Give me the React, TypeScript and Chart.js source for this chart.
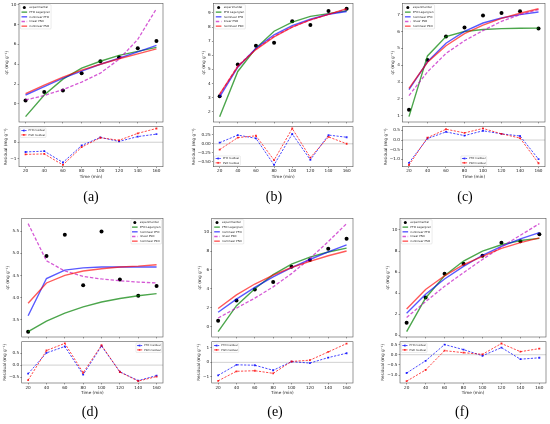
import React, { useEffect, useRef } from "react";
import { Chart, registerables } from "chart.js";

Chart.register(...registerables);

// ---------------- data ----------------
const TIME = [20, 40, 60, 80, 100, 120, 140, 160];
const X_TICKS = [20, 40, 60, 80, 100, 120, 140, 160];

// (a)
const A_EXP = [0.34, 1.2, 1.35, 3.1, 4.3, 4.7, 5.6, 6.35];
const A_PFO_LAG = [-1.28, 0.9, 2.5, 3.6, 4.3, 4.9, 5.3, 5.7];
const A_NL_PFO = [0.9, 1.75, 2.6, 3.3, 4.0, 4.6, 5.25, 5.9];
const A_LIN_PSO = [0.4, 0.85, 1.45, 2.2, 3.1, 4.5, 6.5, 9.6];
const A_NL_PSO = [1.05, 1.9, 2.7, 3.4, 4.0, 4.55, 5.05, 5.55];
const A_RES_PFO = [-0.6, -0.55, -1.25, -0.2, 0.3, 0.05, 0.35, 0.5];
const A_RES_PSO = [-0.75, -0.72, -1.4, -0.3, 0.28, 0.12, 0.55, 0.85];
const A_Y_TICKS = [0, 2, 4, 6, 8, 10];
const A_RES_TICKS = [-1, 0];

// (b)
const B_EXP = [3.1, 5.35, 6.68, 6.88, 8.41, 8.14, 9.14, 9.3];
const B_PFO_LAG = [1.65, 4.85, 6.5, 7.7, 8.35, 8.75, 8.95, 9.15];
const B_NL_PFO = [3.05, 5.15, 6.5, 7.45, 8.1, 8.55, 8.9, 9.1];
const B_LIN_PSO = [3.2, 5.25, 6.45, 7.35, 8.0, 8.5, 8.9, 9.25];
const B_NL_PSO = [3.25, 5.2, 6.4, 7.3, 8.0, 8.5, 8.9, 9.3];
const B_RES_PFO = [0.03, 0.24, 0.15, -0.58, 0.27, -0.44, 0.24, 0.18];
const B_RES_PSO = [-0.16, 0.17, 0.22, -0.45, 0.42, -0.38, 0.19, 0.0];
const B_Y_TICKS = [2, 3, 4, 5, 6, 7, 8, 9];
const B_RES_TICKS = [-0.5, -0.25, 0, 0.25];

// (c)
const C_EXP = [1.36, 4.3, 5.7, 6.24, 6.95, 7.1, 7.2, 6.18];
const C_PFO_LAG = [0.95, 4.55, 5.7, 6.0, 6.12, 6.17, 6.19, 6.2];
const C_NL_PFO = [2.55, 4.2, 5.3, 6.0, 6.5, 6.8, 7.0, 7.15];
const C_LIN_PSO = [2.2, 3.6, 4.7, 5.45, 6.05, 6.6, 7.0, 7.3];
const C_NL_PSO = [2.62, 4.17, 5.15, 5.87, 6.38, 6.78, 7.08, 7.35];
const C_RES_PFO = [-1.18, 0.08, 0.42, 0.23, 0.48, 0.32, 0.21, -0.99];
const C_RES_PSO = [-1.29, 0.12, 0.56, 0.37, 0.6, 0.32, 0.1, -1.2];
const C_Y_TICKS = [1, 2, 3, 4, 5, 6, 7];
const C_RES_TICKS = [-1.0, -0.5, 0.0, 0.5];

// (d)
const D_EXP = [3.23, 4.94, 5.42, 4.28, 5.49, 4.41, 4.04, 4.26];
const D_PFO_LAG = [3.23, 3.47, 3.65, 3.79, 3.9, 3.98, 4.04, 4.09];
const D_NL_PFO = [3.59, 4.43, 4.62, 4.67, 4.69, 4.69, 4.69, 4.69];
const D_LIN_PSO = [5.67, 4.83, 4.6, 4.48, 4.42, 4.38, 4.35, 4.33];
const D_NL_PSO = [3.87, 4.33, 4.5, 4.6, 4.65, 4.69, 4.71, 4.74];
const D_RES_PFO = [-0.36, 0.51, 0.78, -0.4, 0.8, -0.28, -0.65, -0.44];
const D_RES_PSO = [-0.63, 0.61, 0.91, -0.32, 0.83, -0.29, -0.67, -0.48];
const D_Y_TICKS = [3.5, 4.0, 4.5, 5.0, 5.5];
const D_RES_TICKS = [-0.5, 0.0, 0.5];

// (e)
const E_EXP = [0.6, 2.75, 3.93, 4.71, 6.32, 7.04, 8.25, 9.29];
const E_PFO_LAG = [-0.55, 2.2, 4.0, 5.5, 6.6, 7.35, 7.9, 8.3];
const E_NL_PFO = [1.5, 2.9, 4.15, 5.25, 6.25, 7.1, 7.9, 8.65];
const E_LIN_PSO = [0.9, 1.95, 3.0, 4.2, 5.6, 7.2, 9.0, 10.9];
const E_NL_PSO = [1.9, 3.35, 4.5, 5.45, 6.25, 6.9, 7.5, 8.0];
const E_RES_PFO = [-0.9, -0.17, -0.2, -0.55, 0.05, -0.05, 0.33, 0.63];
const E_RES_PSO = [-1.28, -0.62, -0.58, -0.76, 0.06, 0.15, 0.72, 1.3];
const E_Y_TICKS = [0, 2, 4, 6, 8, 10];
const E_RES_TICKS = [-1, 0, 1];

// (f)
const F_EXP = [1.2, 3.6, 5.85, 6.8, 7.55, 8.8, 8.93, 9.6];
const F_PFO_LAG = [0.35, 3.55, 5.65, 7.05, 8.0, 8.6, 9.0, 9.2];
const F_NL_PFO = [2.1, 3.9, 5.35, 6.55, 7.6, 8.45, 9.15, 9.75];
const F_LIN_PSO = [1.7, 3.2, 4.65, 5.95, 7.2, 8.4, 9.5, 10.6];
const F_NL_PSO = [2.5, 4.35, 5.65, 6.7, 7.5, 8.25, 8.8, 9.25];
const F_RES_PFO = [-0.9, -0.3, 0.5, 0.25, -0.05, 0.35, -0.22, -0.15];
const F_RES_PSO = [-1.3, -0.75, 0.2, 0.1, 0.02, 0.55, 0.15, 0.3];
const F_Y_TICKS = [0, 2, 4, 6, 8, 10];
const F_RES_TICKS = [-1.0, -0.5, 0.0, 0.5];

// ---------------- styling ----------------
const FONT = '"DejaVu Sans", sans-serif';
const FS = 4.2;
const LEG_FS_MAIN = 2.8;
const LEG_FS_RES = 2.6;
const TICK_LEN = 1.4;
const TICK_PAD = 1.2;
const LABEL_PAD = 1.6;
const AX_COLOR = "#555";
const TXT_COLOR = "#222";

const C_GREEN = "rgba(0,128,0,0.7)";
const C_BLUE = "rgba(0,0,255,0.65)";
const C_MAG = "rgba(191,0,191,0.65)";
const C_RED = "rgba(255,0,0,0.65)";
const C_RBLUE = "rgba(0,0,255,0.8)";
const C_RRED = "rgba(255,0,0,0.8)";

type Kind = "exp" | "lag" | "nlpfo" | "linpso" | "nlpso" | "respfo" | "respso";

const KIND_LABEL: Record<Kind, string> = {
  exp: "experimental",
  lag: "PFO Lagergren",
  nlpfo: "nonlinear PFO",
  linpso: "linear PSO",
  nlpso: "nonlinear PSO",
  respfo: "PFO residual",
  respso: "PSO residual",
};

const LINE_STYLE: Record<string, { color: string; width: number; dash: number[]; marker?: boolean }> = {
  lag: { color: C_GREEN, width: 1.4, dash: [] },
  nlpfo: { color: C_BLUE, width: 1.4, dash: [] },
  linpso: { color: C_MAG, width: 1.3, dash: [3.4, 1.8] },
  nlpso: { color: C_RED, width: 1.4, dash: [] },
  respfo: { color: C_RBLUE, width: 0.9, dash: [2.2, 1.4], marker: true },
  respso: { color: C_RRED, width: 0.9, dash: [2.2, 1.4], marker: true },
};

const fmt = (v: number, dec: number) => {
  const s = Math.abs(v).toFixed(dec);
  return (v < -1e-9 ? "\u2212" : "") + s;
};

type Loc = "upper left" | "upper right" | "lower left" | "lower center";

interface Sub {
  box: [number, number, number, number];
  residual: boolean;
  series: Partial<Record<Kind, number[]>>;
  yRange: [number, number];
  ticks: number[];
  dec: number;
  legend: Loc;
}

// ---------------- plugin ----------------
function roundRectPath(ctx: CanvasRenderingContext2D, x: number, y: number, w: number, h: number, r: number) {
  ctx.beginPath();
  ctx.moveTo(x + r, y);
  ctx.lineTo(x + w - r, y);
  ctx.arcTo(x + w, y, x + w, y + r, r);
  ctx.lineTo(x + w, y + h - r);
  ctx.arcTo(x + w, y + h, x + w - r, y + h, r);
  ctx.lineTo(x + r, y + h);
  ctx.arcTo(x, y + h, x, y + h - r, r);
  ctx.lineTo(x, y + r);
  ctx.arcTo(x, y, x + r, y, r);
  ctx.closePath();
}

function drawHandle(ctx: CanvasRenderingContext2D, k: Kind, x0: number, x1: number, cy: number) {
  ctx.save();
  if (k === "exp") {
    ctx.fillStyle = "#000";
    ctx.beginPath();
    ctx.arc((x0 + x1) / 2, cy, 1.5, 0, Math.PI * 2);
    ctx.fill();
  } else {
    const s = LINE_STYLE[k];
    ctx.strokeStyle = s.color;
    ctx.lineWidth = s.width;
    ctx.setLineDash(s.dash);
    ctx.beginPath();
    ctx.moveTo(x0, cy);
    ctx.lineTo(x1, cy);
    ctx.stroke();
    if (s.marker) {
      ctx.fillStyle = s.color;
      const m = 0.9;
      ctx.fillRect((x0 + x1) / 2 - m, cy - m, 2 * m, 2 * m);
    }
  }
  ctx.restore();
}

function drawLegend(ctx: CanvasRenderingContext2D, a: any, kinds: Kind[], loc: Loc, fs: number) {
  ctx.save();
  ctx.font = `${fs}px ${FONT}`;
  const tw = Math.max(...kinds.map((k) => ctx.measureText(KIND_LABEL[k]).width));
  const pad = 0.4 * fs, hl = 2 * fs, htp = 0.8 * fs, rowH = 1.17 * fs, sp = 0.5 * fs, bap = 0.5 * fs;
  const w = 2 * pad + hl + htp + tw;
  const h = 2 * pad + kinds.length * rowH + (kinds.length - 1) * sp;
  let x0: number;
  if (loc.includes("left")) x0 = a.left + bap;
  else if (loc.includes("right")) x0 = a.right - bap - w;
  else x0 = (a.left + a.right) / 2 - w / 2;
  const y0 = loc.startsWith("upper") ? a.top + bap : a.bottom - bap - h;
  roundRectPath(ctx, x0, y0, w, h, 0.8);
  ctx.fillStyle = "rgba(255,255,255,0.85)";
  ctx.fill();
  ctx.strokeStyle = "#cccccc";
  ctx.lineWidth = 0.4;
  ctx.stroke();
  kinds.forEach((k, i) => {
    const cy = y0 + pad + i * (rowH + sp) + rowH / 2;
    const hx0 = x0 + pad;
    const hx1 = hx0 + hl;
    drawHandle(ctx, k, hx0, hx1, cy);
    ctx.fillStyle = TXT_COLOR;
    ctx.textAlign = "left";
    ctx.textBaseline = "middle";
    ctx.fillText(KIND_LABEL[k], hx1 + htp, cy);
  });
  ctx.restore();
}

const mplPlugin = {
  id: "mpl",
  beforeDatasetsDraw(chart: any, _args: any, opts: any) {
    if (!opts.zero) return;
    const { ctx, chartArea: a } = chart;
    const y = chart.scales.y.getPixelForValue(0);
    ctx.save();
    ctx.strokeStyle = "#b0b0b0";
    ctx.lineWidth = 0.6;
    ctx.beginPath();
    ctx.moveTo(a.left, y);
    ctx.lineTo(a.right, y);
    ctx.stroke();
    ctx.restore();
  },
  afterDraw(chart: any, _args: any, opts: any) {
    const { ctx, chartArea: a } = chart;
    ctx.save();
    ctx.strokeStyle = AX_COLOR;
    ctx.lineWidth = 0.6;
    ctx.strokeRect(a.left, a.top, a.right - a.left, a.bottom - a.top);
    ctx.font = `${FS}px ${FONT}`;
    ctx.fillStyle = TXT_COLOR;
    let maxW = 0;
    chart.scales.y.ticks.forEach((t: any) => {
      maxW = Math.max(maxW, ctx.measureText(String(t.label)).width);
    });
    const tx = a.left - (TICK_LEN + TICK_PAD + maxW + LABEL_PAD + FS * 0.6);
    ctx.save();
    ctx.translate(tx, (a.top + a.bottom) / 2);
    ctx.rotate(-Math.PI / 2);
    ctx.textAlign = "center";
    ctx.textBaseline = "middle";
    ctx.fillText(opts.yTitle, 0, 0);
    ctx.restore();
    if (opts.xTitle) {
      ctx.textAlign = "center";
      ctx.textBaseline = "middle";
      ctx.fillText(opts.xTitle, (a.left + a.right) / 2, a.bottom + 9.8);
    }
    ctx.restore();
    drawLegend(ctx, a, opts.legendKinds, opts.legendLoc, opts.legendFs);
  },
};

// ---------------- geometry ----------------
function geom(sp: Sub) {
  const [l, t, r, b] = sp.box;
  const LW = Math.min(34, l);
  const TP = 5, RP = 3;
  const BH = sp.residual ? 14 : 3;
  const L0 = Math.floor(l - LW), T0 = Math.floor(t - TP);
  const R1 = Math.min(550, Math.ceil(r + RP)), B1 = Math.ceil(b + BH);
  return { L0, T0, W: R1 - L0, H: B1 - T0, axW: l - L0, padT: t - T0, padR: R1 - r, axH: B1 - b };
}

function buildConfig(sp: Sub) {
  const g = geom(sp);
  const order: Kind[] = sp.residual ? ["respso", "respfo"] : ["nlpso", "linpso", "nlpfo", "lag", "exp"];
  const legendKinds: Kind[] = sp.residual ? ["respfo", "respso"] : ["exp", "lag", "nlpfo", "linpso", "nlpso"];
  const datasets = order
    .filter((k) => sp.series[k])
    .map((k) => {
      const vals = sp.series[k] as number[];
      const data = TIME.map((x, i) => ({ x, y: vals[i] }));
      if (k === "exp") {
        return {
          label: KIND_LABEL[k], data, showLine: false, pointRadius: 2, pointStyle: "circle",
          pointBackgroundColor: "#000", pointBorderColor: "#000", pointBorderWidth: 0,
          borderColor: "#000", backgroundColor: "#000",
        };
      }
      const s = LINE_STYLE[k];
      return {
        label: KIND_LABEL[k], data, showLine: true, tension: 0, fill: false,
        borderColor: s.color, borderWidth: s.width, borderDash: s.dash,
        pointRadius: s.marker ? 1.3 : 0, pointStyle: "rect",
        pointBackgroundColor: s.color, pointBorderColor: s.color, pointBorderWidth: 0,
      };
    });
  const gridOpts = {
    display: true, drawOnChartArea: false, drawTicks: true, tickLength: TICK_LEN,
    tickColor: AX_COLOR, tickWidth: 0.6,
  };
  return {
    type: "line",
    data: { datasets },
    options: {
      animation: false,
      responsive: true,
      maintainAspectRatio: false,
      events: [],
      layout: { padding: { left: 0, top: g.padT, right: g.padR, bottom: 0 } },
      plugins: {
        legend: { display: false },
        tooltip: { enabled: false },
        mpl: {
          yTitle: sp.residual ? "Residual (mg g\u207B\u00B9)" : "qt (mg g\u207B\u00B9)",
          xTitle: sp.residual ? "Time (min)" : "",
          zero: sp.residual,
          legendKinds,
          legendLoc: sp.legend,
          legendFs: sp.residual ? LEG_FS_RES : LEG_FS_MAIN,
        },
      },
      scales: {
        x: {
          type: "linear", min: 13, max: 167, bounds: "data",
          afterBuildTicks: (ax: any) => { ax.ticks = X_TICKS.map((v) => ({ value: v })); },
          afterFit: (ax: any) => { ax.height = g.axH; },
          border: { display: false },
          grid: gridOpts,
          ticks: {
            display: sp.residual, font: { family: FONT, size: FS }, color: TXT_COLOR,
            padding: 0.5, maxRotation: 0, autoSkip: false,
            callback: (v: any) => String(v),
          },
        },
        y: {
          type: "linear", min: sp.yRange[0], max: sp.yRange[1], bounds: "data",
          afterBuildTicks: (ax: any) => { ax.ticks = sp.ticks.map((v) => ({ value: v })); },
          afterFit: (ax: any) => { ax.width = g.axW; },
          border: { display: false },
          grid: gridOpts,
          ticks: {
            font: { family: FONT, size: FS }, color: TXT_COLOR, padding: TICK_PAD,
            autoSkip: false, callback: (v: any) => fmt(Number(v), sp.dec),
          },
        },
      },
    },
    plugins: [mplPlugin],
  };
}

// ---------------- panels ----------------
const ROW1 = { mt: 3.3, mb: 123, rt: 126.7, rb: 166.7, ly: 197 };
const ROW2 = { mt: 218.3, mb: 337.5, rt: 341.7, rb: 383, ly: 412 };

interface Panel { label: string; lx: number; ly: number; main: Sub; res: Sub }

function panel(
  label: string, lx: number, row: typeof ROW1, x: [number, number],
  main: Omit<Sub, "box" | "residual">, res: Omit<Sub, "box" | "residual">
): Panel {
  return {
    label, lx, ly: row.ly,
    main: { ...main, box: [x[0], row.mt, x[1], row.mb], residual: false },
    res: { ...res, box: [x[0], row.rt, x[1], row.rb], residual: true },
  };
}

const PANELS: Panel[] = [
  panel("(a)", 91, ROW1, [19, 163.3],
    { series: { exp: A_EXP, lag: A_PFO_LAG, nlpfo: A_NL_PFO, linpso: A_LIN_PSO, nlpso: A_NL_PSO }, yRange: [-1.82, 10.14], ticks: A_Y_TICKS, dec: 0, legend: "upper left" },
    { series: { respfo: A_RES_PFO, respso: A_RES_PSO }, yRange: [-1.51, 0.96], ticks: A_RES_TICKS, dec: 0, legend: "upper left" }),
  panel("(b)", 274, ROW1, [213.3, 354],
    { series: { exp: B_EXP, lag: B_PFO_LAG, nlpfo: B_NL_PFO, linpso: B_LIN_PSO, nlpso: B_NL_PSO }, yRange: [1.27, 9.68], ticks: B_Y_TICKS, dec: 0, legend: "upper left" },
    { series: { respfo: B_RES_PFO, respso: B_RES_PSO }, yRange: [-0.63, 0.47], ticks: B_RES_TICKS, dec: 2, legend: "lower left" }),
  panel("(c)", 465, ROW1, [402.5, 546],
    { series: { exp: C_EXP, lag: C_PFO_LAG, nlpfo: C_NL_PFO, linpso: C_LIN_PSO, nlpso: C_NL_PSO }, yRange: [0.63, 7.67], ticks: C_Y_TICKS, dec: 0, legend: "upper left" },
    { series: { respfo: C_RES_PFO, respso: C_RES_PSO }, yRange: [-1.38, 0.69], ticks: C_RES_TICKS, dec: 1, legend: "lower center" }),
  panel("(d)", 90, ROW2, [21.7, 163.3],
    { series: { exp: D_EXP, lag: D_PFO_LAG, nlpfo: D_NL_PFO, linpso: D_LIN_PSO, nlpso: D_NL_PSO }, yRange: [3.11, 5.79], ticks: D_Y_TICKS, dec: 1, legend: "upper right" },
    { series: { respfo: D_RES_PFO, respso: D_RES_PSO }, yRange: [-0.75, 0.98], ticks: D_RES_TICKS, dec: 1, legend: "upper right" }),
  panel("(e)", 275, ROW2, [211.7, 353.3],
    { series: { exp: E_EXP, lag: E_PFO_LAG, nlpfo: E_NL_PFO, linpso: E_LIN_PSO, nlpso: E_NL_PSO }, yRange: [-1.12, 11.47], ticks: E_Y_TICKS, dec: 0, legend: "upper left" },
    { series: { respfo: E_RES_PFO, respso: E_RES_PSO }, yRange: [-1.43, 1.43], ticks: E_RES_TICKS, dec: 0, legend: "upper left" }),
  panel("(f)", 462, ROW2, [400, 546.7],
    { series: { exp: F_EXP, lag: F_PFO_LAG, nlpfo: F_NL_PFO, linpso: F_LIN_PSO, nlpso: F_NL_PSO }, yRange: [-0.16, 11.11], ticks: F_Y_TICKS, dec: 0, legend: "upper left" },
    { series: { respfo: F_RES_PFO, respso: F_RES_PSO }, yRange: [-1.39, 0.64], ticks: F_RES_TICKS, dec: 1, legend: "upper left" }),
];

function SubChart({ sp }: { sp: Sub }) {
  const ref = useRef<HTMLCanvasElement>(null);
  useEffect(() => {
    const chart = new Chart(ref.current as HTMLCanvasElement, buildConfig(sp) as any);
    return () => chart.destroy();
  }, []);
  const g = geom(sp);
  return (
    <div style={{ position: "absolute", left: g.L0, top: g.T0, width: g.W, height: g.H }}>
      <canvas ref={ref} />
    </div>
  );
}

export default function App() {
  return (
    <div style={{ position: "fixed", left: 0, top: 0, width: 550, height: 424, background: "#fff", overflow: "hidden" }}>
      {PANELS.map((p) => (
        <React.Fragment key={p.label}>
          <SubChart sp={p.main} />
          <SubChart sp={p.res} />
          <div
            style={{
              position: "absolute", left: p.lx, top: p.ly, transform: "translate(-50%, -50%)",
              fontFamily: '"Liberation Serif", "Times New Roman", serif', fontSize: 14, lineHeight: 1,
              color: "#000", whiteSpace: "nowrap",
            }}
          >
            {p.label}
          </div>
        </React.Fragment>
      ))}
    </div>
  );
}
